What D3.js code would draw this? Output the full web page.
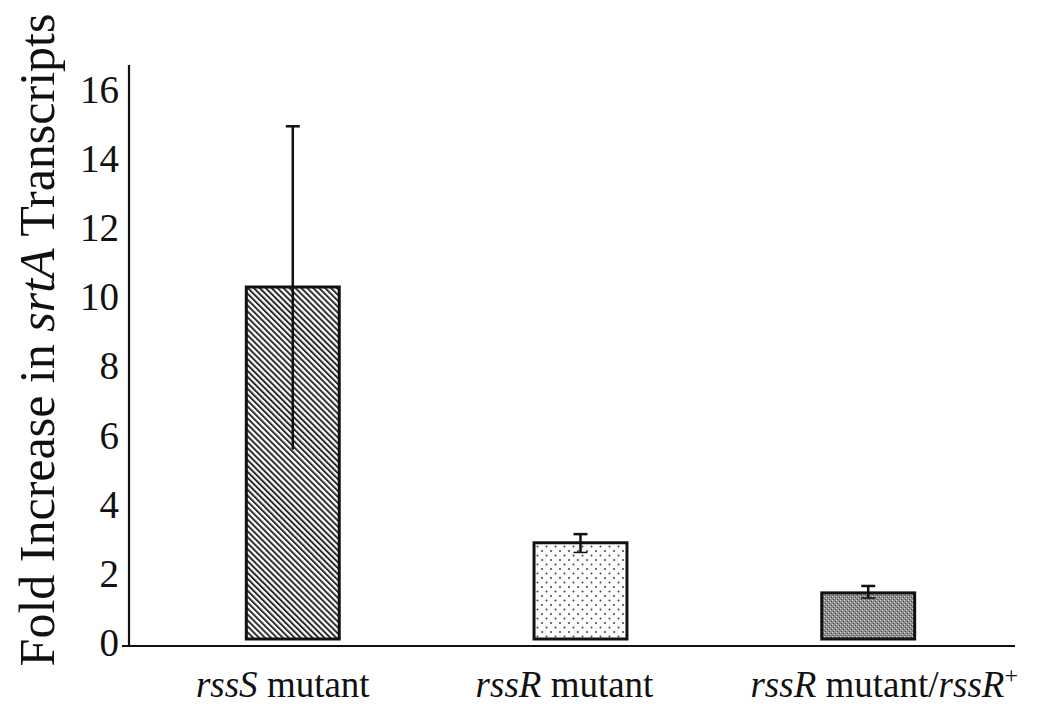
<!DOCTYPE html>
<html>
<head>
<meta charset="utf-8">
<script src="https://cdn.jsdelivr.net/npm/d3@7"></script>
<style>
  body { margin: 0; background: #fff; }
  svg { display: block; }
  text, tspan { font-family: "Liberation Serif", "DejaVu Serif", serif; fill: #111; }
</style>
</head>
<body>
<svg id="chart" width="1037" height="717"></svg>
<script>
// data
const categories = ["rssS", "rssR", "rssR+"];
const foldValues = [10.3, 2.9, 1.45];
const errLow = [5.6, 2.62, 1.3];
const errHigh = [14.95, 3.15, 1.65];
const yTicks = [0, 2, 4, 6, 8, 10, 12, 14, 16];

const SERIF = '"Liberation Serif", "DejaVu Serif", serif';
const svg = d3.select('#chart');
const margin = { left: 129, right: 22, top: 65 };
const width = 1037;

const x = d3.scaleBand()
    .domain(categories)
    .range([160, 1001])
    .paddingInner(0.677)
    .paddingOuter(0.3);

const y = d3.scaleLinear()
    .domain([0, 16])
    .range([643, 90]);

// fill patterns
const defs = svg.append('defs');
const hatch = defs.append('pattern')
    .attr('id', 'hatch')
    .attr('patternUnits', 'userSpaceOnUse')
    .attr('width', 4.2).attr('height', 4.2)
    .attr('patternTransform', 'rotate(-45)');
hatch.append('rect').attr('width', 4.2).attr('height', 4.2).attr('fill', '#fff');
hatch.append('line').attr('x1', 1).attr('y1', 0).attr('x2', 1).attr('y2', 4.2)
    .attr('stroke', '#222').attr('stroke-width', 1.9);

const dots = defs.append('pattern')
    .attr('id', 'dots')
    .attr('patternUnits', 'userSpaceOnUse')
    .attr('width', 9).attr('height', 9);
dots.append('rect').attr('width', 9).attr('height', 9).attr('fill', '#fdfdfd');
dots.append('circle').attr('cx', 2).attr('cy', 2).attr('r', 1).attr('fill', '#444');
dots.append('circle').attr('cx', 6.5).attr('cy', 6.5).attr('r', 1).attr('fill', '#444');

const grain = defs.append('pattern')
    .attr('id', 'grain')
    .attr('patternUnits', 'userSpaceOnUse')
    .attr('width', 4).attr('height', 4);
grain.append('rect').attr('width', 4).attr('height', 4).attr('fill', '#8c8c8c');
grain.append('rect').attr('x', 0).attr('y', 0).attr('width', 1).attr('height', 1).attr('fill', '#d8d8d8');
grain.append('rect').attr('x', 2).attr('y', 2).attr('width', 1).attr('height', 1).attr('fill', '#d8d8d8');
grain.append('rect').attr('x', 1).attr('y', 3).attr('width', 1).attr('height', 1).attr('fill', '#4a4a4a');
grain.append('rect').attr('x', 3).attr('y', 1).attr('width', 1).attr('height', 1).attr('fill', '#4a4a4a');

const fills = ['url(#hatch)', 'url(#dots)', 'url(#grain)'];

// bars
svg.selectAll('rect.bar')
    .data(foldValues)
    .enter()
    .append('rect')
    .attr('class', 'bar')
    .attr('x', (d, i) => x(categories[i]))
    .attr('width', x.bandwidth())
    .attr('y', d => y(d))
    .attr('height', d => y(0) - 4 - y(d))
    .attr('fill', (d, i) => fills[i])
    .attr('stroke', '#111')
    .attr('stroke-width', 3);

// error bars
const eb = svg.selectAll('g.err')
    .data(foldValues)
    .enter()
    .append('g')
    .attr('class', 'err')
    .attr('transform', (d, i) => `translate(${x(categories[i]) + x.bandwidth() / 2},0)`);
eb.append('line')
    .attr('y1', (d, i) => y(errLow[i])).attr('y2', (d, i) => y(errHigh[i]))
    .attr('stroke', '#111').attr('stroke-width', 2.5);
eb.append('line')
    .attr('x1', -7).attr('x2', 7)
    .attr('y1', (d, i) => y(errHigh[i])).attr('y2', (d, i) => y(errHigh[i]))
    .attr('stroke', '#111').attr('stroke-width', 2.5);
eb.append('line')
    .attr('x1', -7).attr('x2', 7)
    .attr('y1', (d, i) => y(errLow[i])).attr('y2', (d, i) => y(errLow[i]))
    .attr('stroke', '#111').attr('stroke-width', 1.5)
    .attr('opacity', (d, i) => i === 0 ? 0 : 1);

// y axis: line only, no tick marks
const yAxis = svg.append('g')
    .attr('transform', `translate(${margin.left},0)`)
    .call(d3.axisLeft(y).tickValues(yTicks).tickSize(0).tickPadding(10));
yAxis.attr('font-family', null).attr('font-size', null);
yAxis.select('.domain').attr('d', `M0,${y(0) + 3}V${margin.top}`)
    .attr('stroke', '#111').attr('stroke-width', 2.2);
yAxis.selectAll('text')
    .style('font-family', SERIF)
    .style('font-size', '39px')
    .attr('fill', '#111');

// x axis baseline
svg.append('line')
    .attr('x1', 122).attr('x2', width - margin.right)
    .attr('y1', y(0) + 3).attr('y2', y(0) + 3)
    .attr('stroke', '#111').attr('stroke-width', 2);

// category labels
const labelParts = [
    [["rssS", true], [" mutant", false]],
    [["rssR", true], [" mutant", false]],
    [["rssR", true], [" mutant/", false], ["rssR", true]]
];
const labelShift = [-10, -16, 16];
labelParts.forEach((parts, i) => {
    const t = svg.append('text')
        .attr('x', x(categories[i]) + x.bandwidth() / 2 + labelShift[i])
        .attr('y', 697)
        .attr('text-anchor', 'middle')
        .style('font-family', SERIF)
        .style('font-size', '37px');
    parts.forEach(p => {
        t.append('tspan').text(p[0])
            .style('font-family', SERIF)
            .style('font-style', p[1] ? 'italic' : 'normal');
    });
    if (i === 2) {
        t.append('tspan').text('+').attr('dy', -14)
            .style('font-family', SERIF).style('font-size', '24px');
    }
});

// y title
svg.append('text')
    .attr('transform', `translate(54,340) rotate(-90)`)
    .attr('text-anchor', 'middle')
    .style('font-family', SERIF)
    .style('font-size', '50px')
    .selectAll('tspan')
    .data([["Fold Increase in ", false], ["srtA", true], [" Transcripts", false]])
    .enter()
    .append('tspan')
    .style('font-family', SERIF)
    .style('font-style', d => d[1] ? 'italic' : 'normal')
    .text(d => d[0]);
</script>
</body>
</html>
